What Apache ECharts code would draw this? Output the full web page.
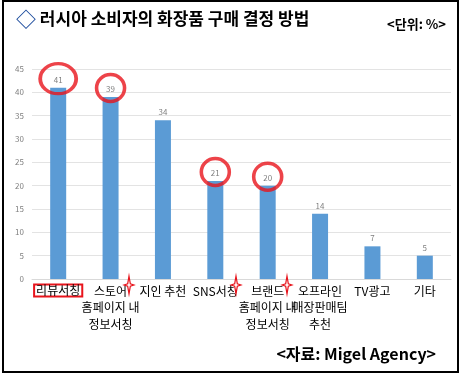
<!DOCTYPE html>
<html>
<head>
<meta charset="utf-8">
<script src="https://cdn.jsdelivr.net/npm/echarts@6/dist/echarts.min.js"></script>
<style>
  html, body { margin: 0; padding: 0; background: #fff; }
  #chart { width: 463px; height: 376px; }
</style>
</head>
<body>
<div id="chart"></div>
<script>
  // 구매 결정 방법 (단위: %)
  const categories = ['리뷰서칭', '스토어\n홈페이지 내\n정보서칭', '지인 추천', 'SNS서칭', '브랜드\n홈페이지 내\n정보서칭', '오프라인\n매장판매팀\n추천', 'TV광고', '기타'];
  const values = [41, 39, 34, 21, 20, 14, 7, 5];
  // 빨간 동그라미 표시한 항목
  const circled = [0, 1, 3, 4];
  const yTicks = [0, 5, 10, 15, 20, 25, 30, 35, 40, 45];

  const font = '"Noto Sans CJK KR", "Malgun Gothic", sans-serif';
  const chart = echarts.init(document.getElementById('chart'));

  // 축 라벨 사이의 빨간 별 (장식)
  function star(cx, cy) {
    const w = 5, h = 9, k = 1.3;
    return {
      type: 'polygon',
      shape: {
        points: [[cx, cy - h], [cx + k, cy - k], [cx + w, cy], [cx + k, cy + k],
          [cx, cy + h], [cx - k, cy + k], [cx - w, cy], [cx - k, cy - k]]
      },
      style: { fill: '#fff', stroke: '#e8141c', lineWidth: 1.2 },
      z: 10
    };
  }

  const circleData = circled.map((i) => ({
    value: [categories[i], values[i]],
    symbolSize: i === 0 ? [36, 30] : [28, 27]
  }));

  const options = {
    animation: false,
    textStyle: { fontFamily: font },
    title: [
      {
        text: '{d|◇} 러시아 소비자의 화장품 구매 결정 방법',
        left: 11,
        top: 4,
        textStyle: {
          fontSize: 17,
          fontWeight: 'bold',
          color: '#000',
          fontFamily: font,
          rich: {
            d: { fontSize: 20, color: '#1f4e9e', fontFamily: font }
          }
        }
      },
      {
        text: '<단위: %>',
        right: 12,
        top: 13,
        textStyle: { fontSize: 13, fontWeight: 'bold', color: '#000', fontFamily: font }
      },
      {
        text: '<자료: Migel Agency>',
        right: 22,
        top: 341,
        textStyle: { fontSize: 16, fontWeight: 'bold', color: '#000', fontFamily: font }
      }
    ],
    grid: {
      left: 32,
      right: 12,
      top: 69,
      bottom: 97,
      containLabel: false
    },
    xAxis: {
      type: 'category',
      data: categories,
      axisLine: { show: true, lineStyle: { color: '#d9d9d9' } },
      axisTick: { show: false },
      axisLabel: {
        interval: 0,
        margin: 4,
        color: '#000',
        fontSize: 12,
        lineHeight: 16.5,
        fontFamily: font,
        formatter: (v) => v === categories[0] ? '{box|' + v + '}' : v,
        rich: {
          box: {
            fontSize: 12,
            color: '#000',
            fontFamily: font,
            borderColor: '#e8141c',
            borderWidth: 2,
            padding: [0, 2, 0, 2],
            lineHeight: 15
          }
        }
      }
    },
    yAxis: {
      type: 'value',
      min: yTicks[0],
      max: yTicks[yTicks.length - 1],
      interval: 5,
      axisLine: { show: false },
      axisTick: { show: false },
      axisLabel: { color: '#7f7f7f', fontSize: 8, margin: 8 },
      splitLine: { lineStyle: { color: '#e3e3e3', width: 1 } }
    },
    series: [
      {
        type: 'bar',
        data: values,
        barWidth: 16,
        itemStyle: { color: '#5b9bd5' },
        label: {
          show: true,
          position: 'top',
          distance: 4,
          color: '#7f7f7f',
          fontSize: 8
        }
      },
      {
        type: 'scatter',
        data: circleData,
        symbol: 'circle',
        symbolOffset: [0, -9],
        itemStyle: { color: 'rgba(0,0,0,0)', borderColor: '#e8141c', borderWidth: 3.5 },
        z: 5
      }
    ],
    graphic: [
      {
        type: 'rect',
        shape: { x: 3, y: 1, width: 455, height: 371 },
        style: { fill: 'none', stroke: '#000', lineWidth: 2 }
      },
      star(129, 285),
      star(236, 285),
      star(287, 285)
    ]
  };
  chart.setOption(options);
</script>
</body>
</html>
